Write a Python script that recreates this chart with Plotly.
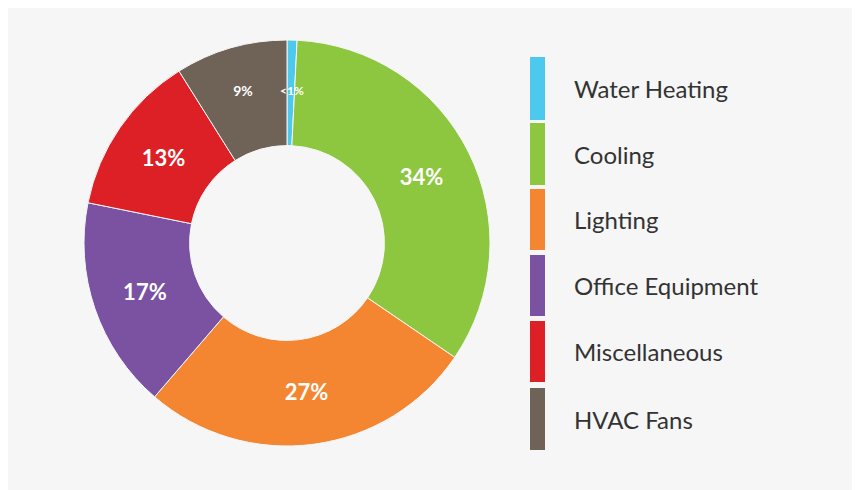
import plotly.graph_objects as go

categories = ["Water Heating", "Cooling", "Lighting", "Office Equipment", "Miscellaneous", "HVAC Fans"]
values = [0.8, 34, 27, 17, 13, 9]
slice_text = ["<1%", "34%", "27%", "17%", "13%", "9%"]
colors = ["#4ec9ee", "#8dc63f", "#f58631", "#7a52a1", "#dd1f26", "#6e6356"]
text_sizes = [12, 22, 22, 22, 22, 14]

W, H = 860, 490
OFF = 8  # page body margin offset compensation
def px(x): return (x - OFF) / W
def py(y): return 1 - (y - OFF) / H

inside_text = [""] + slice_text[1:]
fig = go.Figure(go.Pie(
    labels=categories, values=values, text=inside_text, texttemplate="%{text}",
    textinfo="text", textposition="inside", insidetextorientation="horizontal",
    marker=dict(colors=colors, line=dict(color="#f6f6f6", width=1)),
    textfont=dict(color="white", size=text_sizes, family="Lato", weight="bold"),
    hole=0.48, sort=False, direction="clockwise", rotation=0,
    domain=dict(x=[px(84), px(490)], y=[py(446), py(40)]), showlegend=False,
))

bars = [(57, 120), (123, 185), (189, 250), (255, 316), (321, 382), (388, 450)]
shapes, annots = [], []
for (t, b), c, name in zip(bars, colors, categories):
    shapes.append(dict(type="rect", xref="paper", yref="paper", x0=px(530), x1=px(545),
                       y0=py(b), y1=py(t), fillcolor=c, line=dict(width=0)))
    annots.append(dict(xref="paper", yref="paper", x=px(572), y=py((t + b) / 2), text=name,
                       showarrow=False, xanchor="left", yanchor="middle",
                       font=dict(size=24, color="#333333", family="Lato")))
annots.append(dict(xref="paper", yref="paper", x=px(292), y=py(90), text=slice_text[0],
                   showarrow=False, xanchor="center", yanchor="middle",
                   font=dict(size=12, color="white", family="Lato", weight="bold")))

fig.update_layout(width=W, height=H, margin=dict(l=0, r=0, t=0, b=0),
                  paper_bgcolor="#f6f6f6", plot_bgcolor="#f6f6f6",
                  shapes=shapes, annotations=annots)
fig.write_html("out.html")
